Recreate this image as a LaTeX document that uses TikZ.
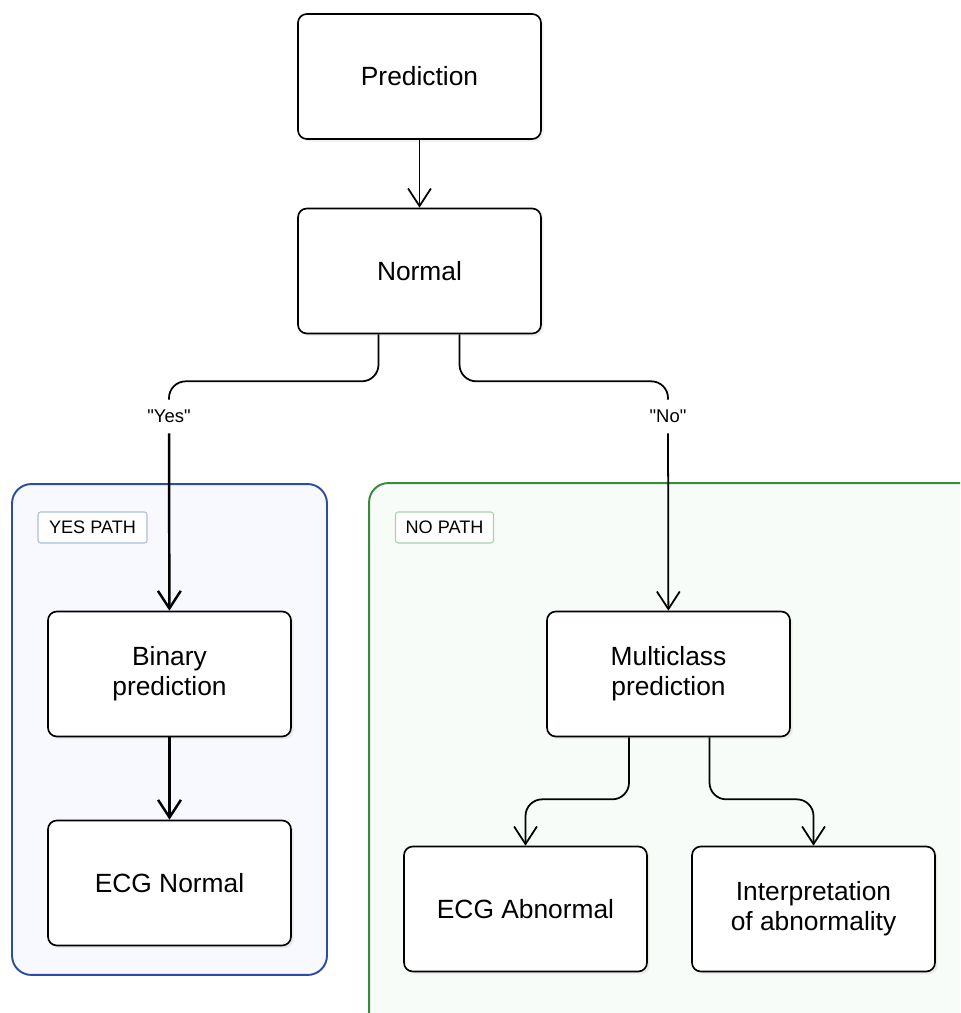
\documentclass[tikz,border=0pt]{standalone}
\usepackage{fontspec}
\setmainfont{Liberation Sans}
\newfontfamily\lblfont{Liberation Sans}
\usetikzlibrary{arrows.meta,calc,shadows}

\definecolor{yesblue}{HTML}{2D4D9E}
\definecolor{yesfill}{HTML}{F8F9FE}
\definecolor{yestag}{HTML}{A9BFE2}
\definecolor{nogreen}{HTML}{3A8A3E}
\definecolor{nofill}{HTML}{F8FCF8}
\definecolor{notag}{HTML}{A8D2AA}

\begin{document}
\begin{tikzpicture}[x=0.02cm,y=-0.02cm,
    box/.style={draw=black, line width=0.95pt, fill=white, rounded corners=5pt,
      minimum width=4.86cm, minimum height=2.5cm, inner sep=0, align=center,
      font=\fontsize{15}{17}\selectfont,
      drop shadow={opacity=0.12, shadow xshift=1.5pt, shadow yshift=-1.5pt}},
    pathframe/.style={line width=1.1pt, rounded corners=11pt, inner sep=0},
    pathtag/.style={line width=0.6pt, fill=white, rounded corners=1.5pt,
      minimum height=0.62cm, inner sep=0, font=\fontsize{10.3}{12}\selectfont},
    lbl/.style={inner sep=0, minimum height=0.66cm, font=\lblfont\fontsize{10.5}{12}\selectfont},
    link/.style={line width=1pt, rounded corners=9.5pt},
    flow/.style={link, -{Straight Barb[length=10pt,width=13pt]}},
  ]
  \useasboundingbox (0,0) rectangle (960,1013);
  \clip (0,0) rectangle (960,1013);

  % group frames
  \node[pathframe, draw=yesblue, fill=yesfill, minimum width=6.3cm, minimum height=9.82cm]
    (yesframe) at (169.5,729.5) {};
  \node[pathframe, draw=nogreen, fill=nofill, minimum width=12.4cm, minimum height=11.2cm]
    (noframe) at (679,763) {};
  \node[pathtag, draw=yestag, minimum width=2.18cm] (yestitle) at (92.5,527.5) {YES PATH};
  \node[pathtag, draw=notag, minimum width=1.96cm] (notitle) at (444.5,527.5) {NO PATH};

  % boxes
  \node[box] (pred)   at (419.5,76.5) {Prediction};
  \node[box] (normal) at (419.5,271)  {Normal};
  \node[box] (binary) at (169.5,674)  {Binary\\prediction};
  \node[box] (ecgnormal) at (169.5,883) {ECG Normal};
  \node[box] (multi)  at (668.5,674)  {Multiclass\\prediction};
  \node[box] (ecgabnormal) at (525.5,909) {ECG Abnormal};
  \node[box] (interp) at (813.5,909)  {Interpretation\\of abnormality};

  % branch labels
  \node[lbl] (yes) at (169,416.5) {"Yes"};
  \node[lbl] (no)  at (668,416.5) {"No"};

  % connectors
  \draw[flow] (pred) -- (normal);
  \draw[link] ($(normal.south)+(-41,0)$) -- ++(0,47) -| (yes.north);
  \draw[link] ($(normal.south)+(40,0)$) -- ++(0,47) -| (no.north);
  \draw[flow, line width=1.4pt] (yes) -- (binary);
  \draw[flow] (no) -- (multi);
  \draw[flow, line width=1.4pt] (binary) -- (ecgnormal);
  \draw[flow] ($(multi.south)+(-39.5,0)$) -- ++(0,62) -| (ecgabnormal.north);
  \draw[flow] ($(multi.south)+(41,0)$) -- ++(0,62) -| (interp.north);

\end{tikzpicture}
\end{document}
